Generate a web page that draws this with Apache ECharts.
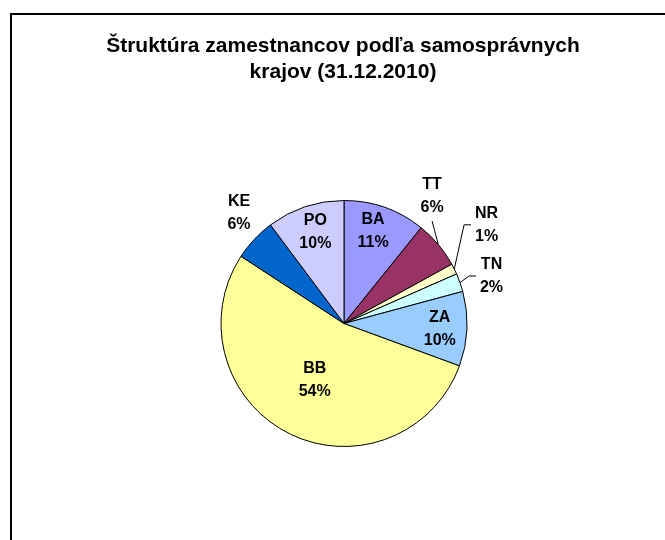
<!DOCTYPE html>
<html>
<head>
    <meta charset="utf-8">
    <title>Štruktúra zamestnancov</title>
    <style>
        html, body { margin: 0; padding: 0; background: #fff; }
        #chartBox { width: 665px; height: 540px; }
    </style>
</head>
<body>
    <div id="chartBox"></div>
    <script src="https://cdn.jsdelivr.net/npm/echarts@6/dist/echarts.min.js"></script>
    <script>
// kraje v poradí od 12 hodín v smere hodinových ručičiek
var regions = ['BA', 'TT', 'NR', 'TN', 'ZA', 'BB', 'KE', 'PO'];
// podiel zamestnancov (%)
var shares = [10.8, 6.2, 1.4, 2.4, 9.8, 53.6, 5.6, 10.2];
// farby výsekov
var sliceColors = ['#9999FF', '#993366', '#FFFFCC', '#CCFFFF', '#99CCFF', '#FFFF99', '#0066CC', '#CCCCFF'];

var chart = echarts.init(document.getElementById('chartBox'));

// stred a polomer koláča
var cx = 344, cy = 323.5, R = 123;

// umiestnenie popisov: násobok polomeru, pootočenie (stupne), typ čiary
var labelSpots = {
    BA: { r: 0.79, turn: -2, line: null },
    TT: { r: 1.26, turn: -15.4, line: 'straight' },
    NR: { r: 1.41, turn: -8.4, line: 'elbow' },
    TN: { r: 1.26, turn: 1.6, line: 'elbow' },
    ZA: { r: 0.78, turn: 1, line: null },
    BB: { r: 0.52, turn: 0.6, line: null },
    KE: { r: 1.24, turn: 3.3, line: null },
    PO: { r: 0.78, turn: 1, line: null }
};

// stredové uhly výsekov
var total = shares.reduce(function (a, b) { return a + b; }, 0);
var midAngles = [];
var acc = 0;
shares.forEach(function (v) {
    midAngles.push((acc + v / 2) / total * 360);
    acc += v;
});

function polar(r, deg) {
    var a = deg * Math.PI / 180;
    return [cx + r * Math.sin(a), cy - r * Math.cos(a)];
}

var pieData = regions.map(function (name, i) {
    var spot = labelSpots[name];
    return {
        name: name,
        value: shares[i],
        itemStyle: { color: sliceColors[i] },
        label: { position: spot.r > 1 ? 'outside' : 'inside' },
        labelLine: { show: !!spot.line }
    };
});

var option = {
    backgroundColor: '#fff',
    animation: false,
    title: {
        text: 'Štruktúra zamestnancov podľa samosprávnych\nkrajov (31.12.2010)',
        left: 343,
        top: 33,
        textAlign: 'center',
        padding: 0,
        textStyle: {
            fontFamily: 'Liberation Sans, Arial, sans-serif',
            fontSize: 21,
            fontWeight: 'bold',
            color: '#000',
            lineHeight: 26
        }
    },
    graphic: [{
        // rámček grafu
        type: 'rect',
        shape: { x: 11, y: 14, width: 700, height: 600 },
        style: { fill: 'none', stroke: '#000', lineWidth: 2 },
        silent: true
    }],
    series: [{
        type: 'pie',
        center: [cx, cy],
        radius: R,
        startAngle: 90,
        clockwise: true,
        avoidLabelOverlap: false,
        emphasis: { disabled: true },
        itemStyle: { borderColor: '#000', borderWidth: 1 },
        label: {
            color: '#000',
            fontFamily: 'Liberation Sans, Arial, sans-serif',
            fontSize: 16,
            fontWeight: 'bold',
            lineHeight: 23,
            formatter: function (p) {
                return p.name + '\n' + Math.round(p.percent) + '%';
            }
        },
        labelLine: {
            lineStyle: { color: '#000', width: 1 }
        },
        labelLayout: function (p) {
            var name = regions[p.dataIndex];
            var spot = labelSpots[name];
            var pos = polar(R * spot.r, midAngles[p.dataIndex] + spot.turn);
            var out = { x: pos[0], y: pos[1], align: 'center', verticalAlign: 'middle' };
            var start = polar(R, midAngles[p.dataIndex]);
            if (spot.line === 'straight') {
                var end = [pos[0], pos[1] + p.labelRect.height / 2 + 2];
                out.labelLinePoints = [start, end, end];
            } else if (spot.line === 'elbow') {
                var tip = [pos[0] - p.labelRect.width / 2 - 4, pos[1]];
                out.labelLinePoints = [start, [tip[0] - 7, tip[1]], tip];
            }
            return out;
        },
        data: pieData
    }]
};

chart.setOption(option);
    </script>
</body>
</html>
